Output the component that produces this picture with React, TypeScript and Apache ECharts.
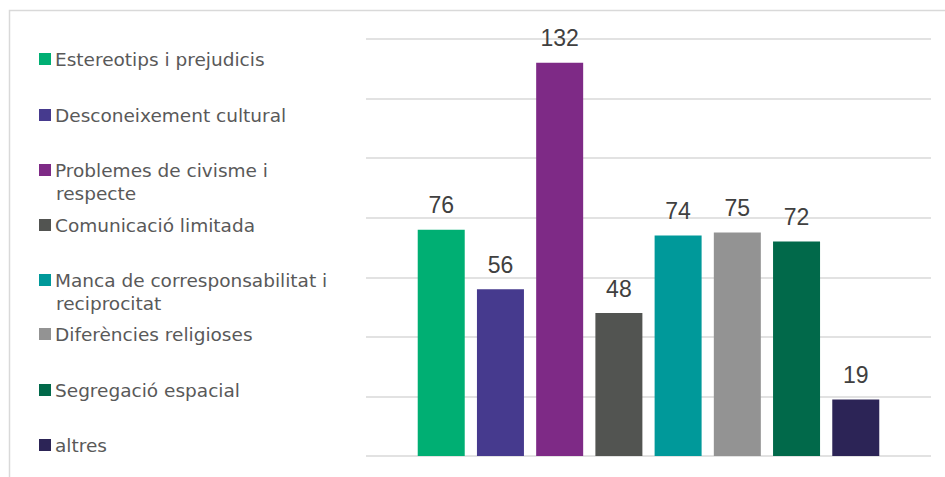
import React, { useEffect, useRef } from "react";
import * as echarts from "echarts";

const seriesNames = [
  "Estereotips i prejudicis",
  "Desconeixement cultural",
  "Problemes de civisme i respecte",
  "Comunicació limitada",
  "Manca de corresponsabilitat i reciprocitat",
  "Diferències religioses",
  "Segregació espacial",
  "altres",
];
const legendFirstLines = [
  "Estereotips i prejudicis",
  "Desconeixement cultural",
  "Problemes de civisme i",
  "Comunicació limitada",
  "Manca de corresponsabilitat i",
  "Diferències religioses",
  "Segregació espacial",
  "altres",
];
const legendSecondLines = ["", "", "respecte", "", "reciprocitat", "", "", ""];
const values = [76, 56, 132, 48, 74, 75, 72, 19];
const colors = ["#00AF73", "#463A8E", "#7E2A86", "#525451", "#00999A", "#939393", "#01694A", "#2C2456"];
const categories = ["Total"];

const legendCenters = [59, 115, 170, 225, 280, 334, 390, 445];

export default function App() {
  const ref = useRef<HTMLDivElement>(null);
  useEffect(() => {
    if (!ref.current) return;
    const chart = echarts.init(ref.current, undefined, { renderer: "svg" });
    const legendFont = "DejaVu Sans";
    const legendSize = 18.5;
    const legends = seriesNames.map((name, i) => ({
      orient: "vertical",
      left: 39,
      top: legendCenters[i] - 10,
      padding: 0,
      itemWidth: 12,
      itemHeight: 12,
      itemGap: 0,
      icon: "rect",
      selectedMode: false,
      data: [name],
      formatter: () => legendFirstLines[i],
      textStyle: {
        color: "#595959",
        fontSize: legendSize,
        fontFamily: legendFont,
        lineHeight: 20,
        padding: [0, 0, 0, -1],
      },
    }));
    const graphics: any[] = [
      {
        type: "rect",
        shape: { x: 9.5, y: 10.5, width: 2000, height: 2000 },
        style: { fill: "none", stroke: "#D9D9D9", lineWidth: 1.5 },
        silent: true,
      },
    ];
    legendSecondLines.forEach((t, i) => {
      if (!t) return;
      graphics.push({
        type: "text",
        x: 56,
        y: legendCenters[i] + 23.6,
        style: {
          text: t,
          fill: "#595959",
          font: `${legendSize}px "${legendFont}"`,
          verticalAlign: "middle",
        },
        silent: true,
      });
    });
    chart.setOption({
      animation: false,
      backgroundColor: "#ffffff",
      grid: { left: 366, right: 14, top: 39, bottom: 21, containLabel: false },
      legend: legends,
      graphic: graphics,
      xAxis: {
        type: "category",
        data: categories,
        axisLine: { show: false },
        axisTick: { show: false },
        axisLabel: { show: false },
      },
      yAxis: {
        type: "value",
        min: 0,
        max: 140,
        interval: 20,
        axisLabel: { show: false },
        axisLine: { show: false },
        axisTick: { show: false },
        splitLine: { lineStyle: { color: "#D9D9D9", width: 1.5 } },
      },
      series: seriesNames.map((name, i) => ({
        name,
        type: "bar",
        data: [values[i]],
        barWidth: 47,
        barGap: "26%",
        itemStyle: { color: colors[i] },
        label: {
          show: true,
          position: "top",
          distance: 13,
          color: "#404040",
          fontSize: 23,
          fontFamily: "Liberation Sans",
        },
      })),
    });
    return () => chart.dispose();
  }, []);
  return (
    <div
      ref={ref}
      style={{ position: "absolute", left: 0, top: 0, width: 945, height: 477 }}
    />
  );
}
